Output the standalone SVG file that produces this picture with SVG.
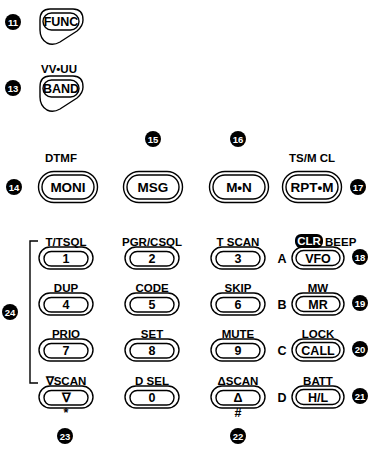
<svg xmlns="http://www.w3.org/2000/svg" width="372" height="462" viewBox="0 0 372 462">
<style>
.o{fill:none;stroke:#000;stroke-width:1.4}
.t{font-family:"Liberation Sans",Arial,sans-serif;font-weight:bold;font-size:11.5px;text-anchor:middle;fill:#000}
.k{font-family:"Liberation Sans",Arial,sans-serif;font-weight:bold;font-size:12.5px;text-anchor:middle;fill:#000}
.b{font-family:"Liberation Sans",Arial,sans-serif;font-weight:bold;font-size:13.5px;text-anchor:middle;fill:#000}
.n{font-family:"Liberation Sans",Arial,sans-serif;font-weight:bold;font-size:9.5px;text-anchor:middle;fill:#fff}
.c{fill:#000}
</style>
<defs>
<g id="key">
<rect class="o" x="-27" y="-11" width="54" height="22" rx="11"/>
<rect class="o" x="-22" y="-6.5" width="44" height="14.5" rx="7.2"/>
</g>
<g id="key4">
<rect class="o" x="-26" y="-11" width="52" height="22" rx="11"/>
<rect class="o" x="-22" y="-7.5" width="44" height="15" rx="7.5"/>
</g>
<g id="big">
<rect class="o" x="-29.5" y="-15.5" width="59" height="31" rx="15.5"/>
<rect class="o" x="-26" y="-12" width="52" height="24" rx="12"/>
</g>
</defs>

<g id="func">
<circle class="c" cx="13" cy="22" r="8"/><text class="n" x="13" y="25.5">11</text>
<rect class="o" x="43" y="13" width="36" height="17" rx="8.5"/>
<path class="o" d="M40,20 Q40,9 50,9 L73,9 Q83,9 83,20 Q83,26 77,31 L60,42 Q53,46 47,43 Q40,39 40,30 Z"/>
<text class="k" x="61" y="25.5" font-size="11">FUNC</text>
</g>

<g id="band">
<text class="t" x="59" y="73" font-size="9.5">VV•UU</text>
<circle class="c" cx="13" cy="88" r="8"/><text class="n" x="13" y="91.5">13</text>
<rect class="o" x="43" y="80" width="36" height="17" rx="8.5"/>
<path class="o" d="M40,87 Q40,76 50,76 L73,76 Q83,76 83,87 Q83,93 77,98 L60,109 Q53,113 47,110 Q40,106 40,97 Z"/>
<text class="k" x="61" y="92.5" font-size="11">BAND</text>
</g>

<g id="moni">
<text class="t" x="61" y="162">DTMF</text>
<circle class="c" cx="14" cy="187" r="8"/><text class="n" x="14" y="190.5">14</text>
<use href="#big" x="68" y="187"/>
<text class="b" x="68" y="192">MONI</text>
</g>
<g id="msg">
<circle class="c" cx="153" cy="139" r="8"/><text class="n" x="153" y="142.5">15</text>
<use href="#big" x="153" y="187"/>
<text class="b" x="153" y="192">MSG</text>
</g>
<g id="mn">
<circle class="c" cx="238" cy="139" r="8"/><text class="n" x="238" y="142.5">16</text>
<use href="#big" x="239" y="187"/>
<text class="b" x="239" y="192">M•N</text>
</g>
<g id="rptm">
<text class="t" x="312" y="162">TS/M CL</text>
<use href="#big" x="312" y="187"/>
<text class="b" x="312" y="191.5" font-size="12">RPT•M</text>
<circle class="c" cx="358" cy="187" r="8"/><text class="n" x="358" y="190.5">17</text>
</g>

<g id="connectors">
<path class="o" d="M38,241 L30,241 L30,383 L38,383"/>
</g>
<g id="bracket-label">
<circle class="c" cx="10" cy="312" r="8"/><text class="n" x="10" y="315.5">24</text>
</g>

<g id="k1"><text class="t" x="66" y="246">T/TSQL</text><use href="#key" x="66" y="258"/><text class="k" x="66" y="262.5">1</text></g>
<g id="k2"><text class="t" x="152" y="246">PGR/CSQL</text><use href="#key" x="152" y="258"/><text class="k" x="152" y="262.5">2</text></g>
<g id="k3"><text class="t" x="238" y="246">T SCAN</text><use href="#key" x="238" y="258"/><text class="k" x="238" y="262.5">3</text></g>
<g id="vfo">
<rect class="c" x="295" y="234" width="28" height="14" rx="6"/>
<text class="t" x="309" y="245" style="fill:#fff">CLR</text>
<text class="t" x="325" y="246" style="text-anchor:start">BEEP</text>
<text class="k" x="282" y="262.5">A</text>
<use href="#key4" x="318" y="258"/><text class="k" x="318" y="263">VFO</text>
<circle class="c" cx="360" cy="257" r="8"/><text class="n" x="360" y="260.5">18</text>
</g>

<g id="k4"><text class="t" x="66" y="292">DUP</text><use href="#key" x="66" y="304"/><text class="k" x="66" y="308.5">4</text></g>
<g id="k5"><text class="t" x="152" y="292">CODE</text><use href="#key" x="152" y="304"/><text class="k" x="152" y="308.5">5</text></g>
<g id="k6"><text class="t" x="238" y="292">SKIP</text><use href="#key" x="238" y="304"/><text class="k" x="238" y="308.5">6</text></g>
<g id="mr">
<text class="t" x="318" y="292">MW</text>
<text class="k" x="282" y="308.5">B</text>
<use href="#key4" x="318" y="304"/><text class="k" x="318" y="309">MR</text>
<circle class="c" cx="360" cy="303" r="8"/><text class="n" x="360" y="306.5">19</text>
</g>

<g id="k7"><text class="t" x="66" y="338">PRIO</text><use href="#key" x="66" y="350"/><text class="k" x="66" y="354.5">7</text></g>
<g id="k8"><text class="t" x="152" y="338">SET</text><use href="#key" x="152" y="350"/><text class="k" x="152" y="354.5">8</text></g>
<g id="k9"><text class="t" x="238" y="338">MUTE</text><use href="#key" x="238" y="350"/><text class="k" x="238" y="354.5">9</text></g>
<g id="call">
<text class="t" x="318" y="338">LOCK</text>
<text class="k" x="282" y="354.5">C</text>
<use href="#key4" x="318" y="350"/><text class="k" x="318" y="355" font-size="11.5">CALL</text>
<circle class="c" cx="360" cy="349" r="8"/><text class="n" x="360" y="352.5">20</text>
</g>

<g id="kdown"><text class="t" x="66" y="385">∇SCAN</text><use href="#key" x="66" y="397"/><text class="k" x="66" y="401.5" font-weight="normal">∇</text>
<text class="k" x="66" y="417">*</text>
<circle class="c" cx="65" cy="436" r="8"/><text class="n" x="65" y="439.5">23</text></g>
<g id="k0"><text class="t" x="152" y="385">D SEL</text><use href="#key" x="152" y="397"/><text class="k" x="152" y="401.5">0</text></g>
<g id="kup"><text class="t" x="238" y="385">ΔSCAN</text><use href="#key" x="238" y="397"/><text class="k" x="238" y="401.5" font-weight="normal">Δ</text>
<text class="k" x="238" y="417">#</text>
<circle class="c" cx="238" cy="436" r="8"/><text class="n" x="238" y="439.5">22</text></g>
<g id="hl">
<text class="t" x="318" y="385">BATT</text>
<text class="k" x="282" y="401.5">D</text>
<use href="#key4" x="318" y="397"/><text class="k" x="318" y="402">H/L</text>
<circle class="c" cx="360" cy="396" r="8"/><text class="n" x="360" y="399.5">21</text>
</g>
</svg>
